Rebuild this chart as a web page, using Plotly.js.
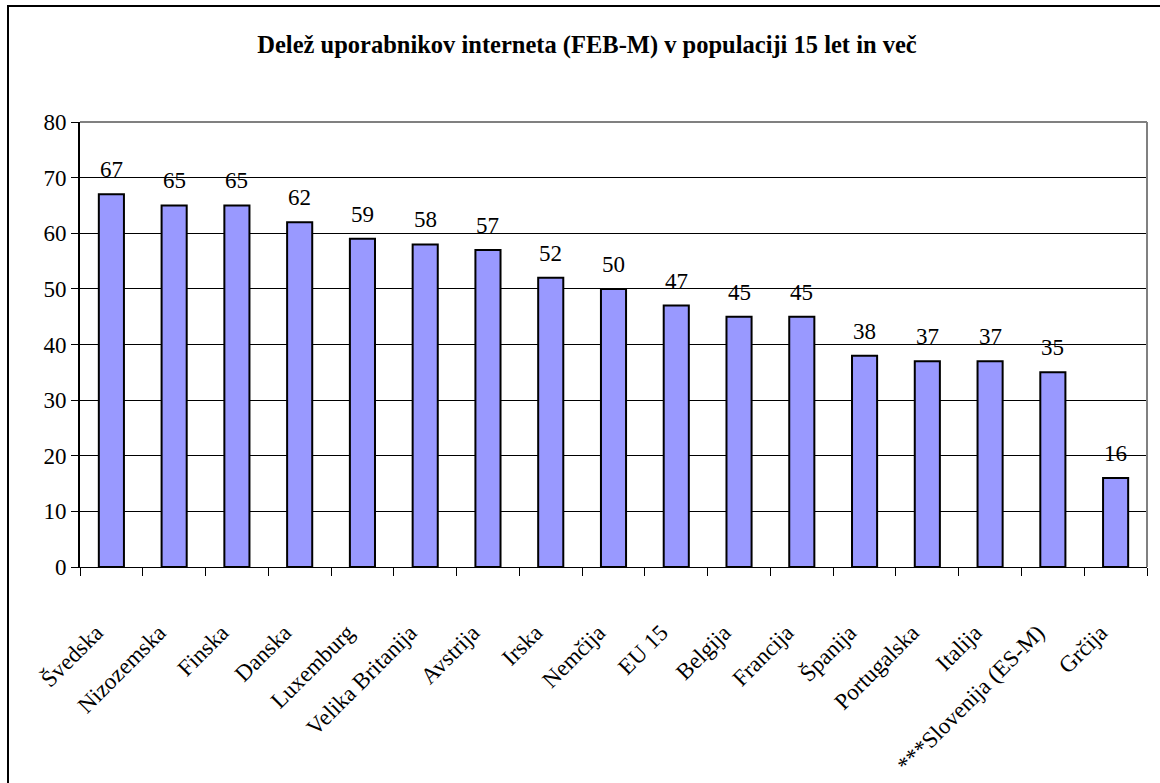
<!DOCTYPE html>
<html>
<head>
<meta charset="utf-8">
<script src="https://cdn.plot.ly/plotly-3.0.1.min.js"></script>
<style>
  html, body { margin: 0; padding: 0; background: #fff; }
  #wrap { position: relative; width: 1160px; height: 783px; overflow: hidden; }
  #chart { width: 1160px; height: 783px; }
  #frame { position: absolute; left: 7px; top: 5px; width: 1300px; height: 1000px;
           border-left: 2px solid #000; border-top: 2px solid #000; pointer-events: none; }
</style>
</head>
<body>
<div id="wrap">
  <div id="chart"></div>
  <div id="frame"></div>
</div>
<script>
const categories = ["Švedska", "Nizozemska", "Finska", "Danska", "Luxemburg", "Velika Britanija",
  "Avstrija", "Irska", "Nemčija", "EU 15", "Belgija", "Francija", "Španija", "Portugalska",
  "Italija", "***Slovenija (ES-M)", "Grčija"];
const values = [67, 65, 65, 62, 59, 58, 57, 52, 50, 47, 45, 45, 38, 37, 37, 35, 16];
const yTicks = [0, 10, 20, 30, 40, 50, 60, 70, 80];
const titleText = "Delež uporabnikov interneta (FEB-M) v populaciji 15 let in več";

const serif = "Liberation Serif";

const trace = {
  type: "bar",
  x: categories,
  y: values,
  marker: { color: "#9999FF", line: { color: "#000", width: 2 } },
  hoverinfo: "x+y"
};

const labelAnnotations = categories.map((c, i) => ({
  x: c, y: values[i], xref: "x", yref: "y",
  text: String(values[i]),
  showarrow: false,
  yanchor: "bottom",
  yshift: 10,
  font: { family: serif, size: 23, color: "#000" }
}));

const layout = {
  width: 1160,
  height: 783,
  margin: { l: 80, r: 13, t: 122, b: 216 },
  paper_bgcolor: "#fff",
  plot_bgcolor: "#fff",
  showlegend: false,
  bargap: 0.6,
  font: { family: serif, color: "#000" },
  title: {
    text: "<b>" + titleText + "</b>",
    font: { family: serif, size: 24.5, color: "#000" },
    x: 587 / 1160, xanchor: "center",
    y: 1 - 44 / 783, yanchor: "middle"
  },
  xaxis: {
    type: "category",
    tickangle: -45,
    tickfont: { family: serif, size: 23, color: "#000" },
    ticks: "outside",
    tickson: "boundaries",
    ticklen: 8,
    tickcolor: "#000",
    ticklabelstandoff: 42,
    ticklabelshift: -15,
    showline: true,
    linecolor: "#000",
    linewidth: 1,
    showgrid: false,
    fixedrange: true
  },
  yaxis: {
    range: [0, 80],
    tickvals: yTicks,
    ticktext: yTicks.map(String),
    tickfont: { family: serif, size: 23, color: "#000" },
    ticks: "outside",
    ticklen: 7,
    tickcolor: "#000",
    showline: true,
    linecolor: "#000",
    linewidth: 2,
    showgrid: true,
    gridcolor: "#000",
    gridwidth: 1,
    zeroline: false,
    fixedrange: true
  },
  annotations: labelAnnotations,
  shapes: [
    { type: "line", xref: "paper", yref: "paper", x0: 0, x1: 1, y0: 1, y1: 1,
      line: { color: "#808080", width: 2 } },
    { type: "line", xref: "paper", yref: "paper", x0: 1, x1: 1, y0: 0, y1: 1,
      line: { color: "#808080", width: 2 } }
  ]
};

Plotly.newPlot("chart", [trace], layout, { displayModeBar: false, staticPlot: true });
</script>
</body>
</html>
